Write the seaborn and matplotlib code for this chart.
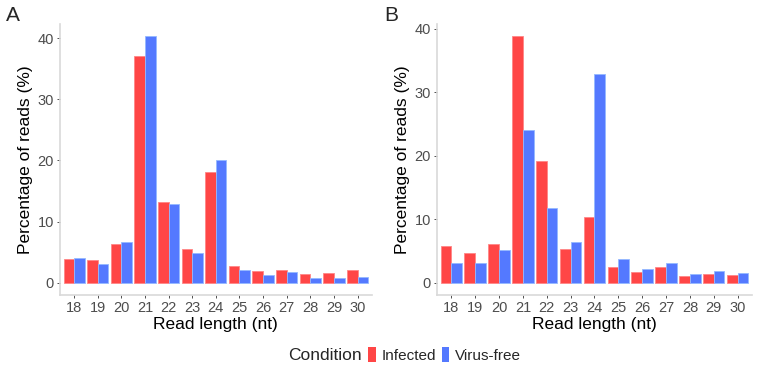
import numpy as np
import pandas as pd
import matplotlib
matplotlib.use("Agg")
import matplotlib.pyplot as plt
import seaborn as sns
from matplotlib.patches import Patch

# read lengths (nt)
lengths = [18, 19, 20, 21, 22, 23, 24, 25, 26, 27, 28, 29, 30]

# panel A
a_infected = [3.8, 3.7, 6.4, 37.1, 13.2, 5.5, 18.1, 2.7, 1.9, 2.1, 1.5, 1.6, 2.1]
a_virusfree = [4.0, 3.1, 6.7, 40.3, 12.9, 4.9, 20.0, 2.1, 1.2, 1.8, 0.7, 0.8, 1.0]

# panel B
b_infected = [5.8, 4.6, 6.1, 38.8, 19.1, 5.3, 10.4, 2.4, 1.7, 2.5, 1.0, 1.3, 1.2]
b_virusfree = [3.1, 3.1, 5.2, 24.1, 11.7, 6.4, 32.9, 3.8, 2.2, 3.1, 1.4, 1.8, 1.5]

conditions = ["Infected", "Virus-free"]
colors = {"Infected": "#FF4646", "Virus-free": "#5479FF"}


def to_long(inf, vf):
    return pd.DataFrame({
        "length": [str(l) for l in lengths] * 2,
        "pct": inf + vf,
        "Condition": ["Infected"] * len(lengths) + ["Virus-free"] * len(lengths),
    })


sns.set_theme(style="white")
plt.rcParams["font.family"] = ["Liberation Sans", "DejaVu Sans"]

fig = plt.figure(figsize=(7.57, 3.70), dpi=100)
ax_a = fig.add_axes([0.0793, 0.2027, 0.4117, 0.7323])
ax_b = fig.add_axes([0.5773, 0.2027, 0.4160, 0.7323])

panels = [(ax_a, a_infected, a_virusfree, "A"), (ax_b, b_infected, b_virusfree, "B")]
for ax, inf, vf, tag in panels:
    df = to_long(inf, vf)
    sns.barplot(data=df, x="length", y="pct", hue="Condition", hue_order=conditions,
                palette=colors, width=0.9, gap=0, ax=ax, legend=False,
                linewidth=0.6, saturation=1)
    top = max(inf + vf)
    ax.set_ylim(-top * 0.05, top * 1.05)
    ax.set_xlim(-0.6, len(lengths) - 0.4)
    ax.set_yticks([0, 10, 20, 30, 40])
    ax.set_xlabel("Read length (nt)", fontsize=12.5, color="black", labelpad=1)
    ax.set_ylabel("Percentage of reads (%)", fontsize=12.5, color="black", labelpad=3)
    ax.tick_params(axis="both", labelsize=10.5, labelcolor="#4D4D4D", color="#333333",
                   length=2.5, width=0.6, pad=2, bottom=True, left=True)
    for s in ["top", "right"]:
        ax.spines[s].set_visible(False)
    for s in ["left", "bottom"]:
        ax.spines[s].set_color("#D9D9D9")
        ax.spines[s].set_linewidth(1.2)
    ax.grid(False)

# light outlines around bars, ggplot-like
for ax in (ax_a, ax_b):
    for p in ax.patches:
        fc = p.get_facecolor()
        p.set_edgecolor((min(fc[0] + 0.25, 1), min(fc[1] + 0.25, 1), min(fc[2] + 0.25, 1), 1))

fig.text(0.008, 0.985, "A", fontsize=15, va="top", ha="left")
fig.text(0.507, 0.985, "B", fontsize=15, va="top", ha="left")

fig.text(0.478, 0.040, "Condition", fontsize=12.5, va="center", ha="right")
handles = [Patch(facecolor=colors[c], edgecolor="none") for c in conditions]
fig.legend(handles, conditions, loc="center left", bbox_to_anchor=(0.478, 0.040),
           ncol=2, frameon=False, fontsize=11, handlelength=0.5, handleheight=1.1,
           handletextpad=0.4, columnspacing=0.35, borderaxespad=0)

fig.savefig("out.png", dpi=100)
